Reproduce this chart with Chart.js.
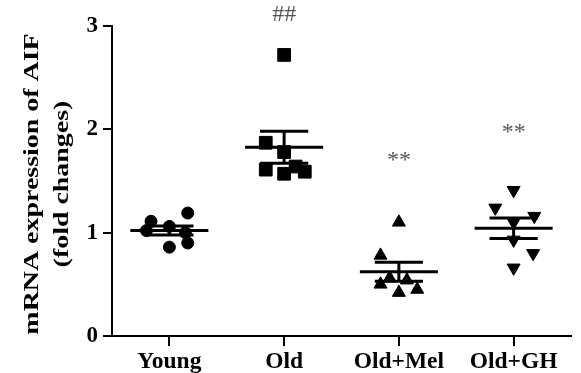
<!DOCTYPE html>
<html><head><meta charset="utf-8">
<script src="https://cdn.jsdelivr.net/npm/chart.js@4"></script>
<style>html,body{margin:0;padding:0;background:#fff}</style>
</head><body><canvas id="c" width="581" height="373"></canvas>
<script>
const categories = ['Young', 'Old', 'Old+Mel', 'Old+GH'];
const young  = [1.19, 1.11, 1.06, 1.02, 1.00, 0.90, 0.86];
const old    = [2.72, 1.87, 1.78, 1.64, 1.61, 1.59, 1.57];
const oldMel = [1.10, 0.78, 0.56, 0.54, 0.50, 0.45, 0.42];
const oldGH  = [1.41, 1.24, 1.16, 1.10, 0.93, 0.80, 0.66];
const yTicks = [0, 1, 2, 3];
const yTitle = ['mRNA expression of AIF', '(fold changes)'];
const marks = ['', '##', '**', '**'];
const markLevels = [null, 3.11, 1.70, 1.97];

const groups = [young, old, oldMel, oldGH];
// layout only: horizontal spread of dots within a column (category units)
const spreads = [
  [0.16, -0.16, 0, -0.2, 0.14, 0.16, 0],
  [0, -0.16, 0, 0.1, -0.16, 0.18, 0],
  [0, -0.16, -0.08, 0.07, -0.16, 0.16, 0],
  [0, -0.16, 0.18, 0, 0, 0.17, 0]
];
const styles = [
  {pointStyle: 'circle', pointRadius: 6, rotation: 0},
  {pointStyle: 'rect', pointRadius: 9, rotation: 0},
  {pointStyle: 'triangle', pointRadius: 7.5, rotation: 0},
  {pointStyle: 'triangle', pointRadius: 7.5, rotation: 180}
];

const datasets = groups.map((vals, gi) => ({
  label: categories[gi],
  data: vals.map((v, i) => ({x: gi + spreads[gi][i], y: v})),
  backgroundColor: '#000',
  borderColor: '#000',
  borderWidth: 1,
  pointStyle: styles[gi].pointStyle,
  pointRadius: styles[gi].pointRadius,
  rotation: styles[gi].rotation
}));

const errPlugin = {
  id: 'err',
  afterDatasetsDraw(chart) {
    const {ctx, scales: {x, y}} = chart;
    ctx.save();
    ctx.strokeStyle = '#000';
    ctx.lineWidth = 3;
    ctx.lineCap = 'butt';
    groups.forEach((vals, gi) => {
      const n = vals.length;
      const m = vals.reduce((a, b) => a + b, 0) / n;
      const sd = Math.sqrt(vals.reduce((a, b) => a + (b - m) ** 2, 0) / (n - 1));
      const se = sd / Math.sqrt(n);
      const cx = x.getPixelForValue(gi);
      const half = x.getPixelForValue(gi + 0.34) - cx;
      const cap = x.getPixelForValue(gi + 0.21) - cx;
      const ym = y.getPixelForValue(m), yu = y.getPixelForValue(m + se), yl = y.getPixelForValue(m - se);
      ctx.beginPath();
      ctx.moveTo(cx - half, ym); ctx.lineTo(cx + half, ym);
      ctx.moveTo(cx - cap, yu); ctx.lineTo(cx + cap, yu);
      ctx.moveTo(cx - cap, yl); ctx.lineTo(cx + cap, yl);
      ctx.moveTo(cx, yu); ctx.lineTo(cx, yl);
      ctx.stroke();
    });
    ctx.fillStyle = '#555';
    ctx.font = '24px "Liberation Serif"';
    ctx.textAlign = 'center';
    ctx.textBaseline = 'middle';
    marks.forEach((t, gi) => {
      if (!t) return;
      ctx.fillText(t, x.getPixelForValue(gi), y.getPixelForValue(markLevels[gi]));
    });
    ctx.restore();
  }
};

const titlePlugin = {
  id: 'ytitle',
  afterDraw(chart) {
    const ctx = chart.ctx;
    const cy = 184;
    const xs = [33, 63];
    ctx.save();
    ctx.fillStyle = '#000';
    ctx.font = 'bold 21px "Liberation Serif"';
    ctx.textAlign = 'center';
    ctx.textBaseline = 'middle';
    yTitle.forEach((t, i) => {
      ctx.save();
      ctx.translate(xs[i], cy);
      ctx.rotate(-Math.PI / 2);
      ctx.scale(1.33, 1);
      ctx.fillText(t, 0, 0);
      ctx.restore();
    });
    ctx.restore();
  }
};

new Chart(document.getElementById('c'), {
  type: 'scatter',
  data: {datasets},
  plugins: [errPlugin, titlePlugin],
  options: {
    responsive: false,
    animation: false,
    devicePixelRatio: 1,
    layout: {padding: {top: 26, right: 5, left: 0, bottom: 0}},
    plugins: {legend: {display: false}, tooltip: {enabled: false}},
    scales: {
      x: {
        type: 'linear', min: -0.5, max: 3.5,
        afterBuildTicks: s => { s.ticks = categories.map((c, i) => ({value: i})); },
        afterFit: s => { s.height = 37; },
        ticks: {
          callback: v => categories[v],
          color: '#000', padding: 2, maxRotation: 0, autoSkip: false,
          font: {family: '"Liberation Serif"', size: 23.5, weight: 'bold'}
        },
        grid: {display: true, drawOnChartArea: false, drawTicks: true, tickLength: 10, color: '#000', lineWidth: 2},
        border: {display: true, color: '#000', width: 2}
      },
      y: {
        min: 0, max: 3,
        afterBuildTicks: s => { s.ticks = yTicks.map(v => ({value: v})); },
        afterFit: s => { s.width = 112; },
        ticks: {
          color: '#000', padding: 5,
          font: {family: '"Liberation Serif"', size: 23, weight: 'bold'}
        },
        grid: {display: true, drawOnChartArea: false, drawTicks: true, tickLength: 9, color: '#000', lineWidth: 2},
        border: {display: true, color: '#000', width: 2}
      }
    }
  }
});
</script>
</body></html>
